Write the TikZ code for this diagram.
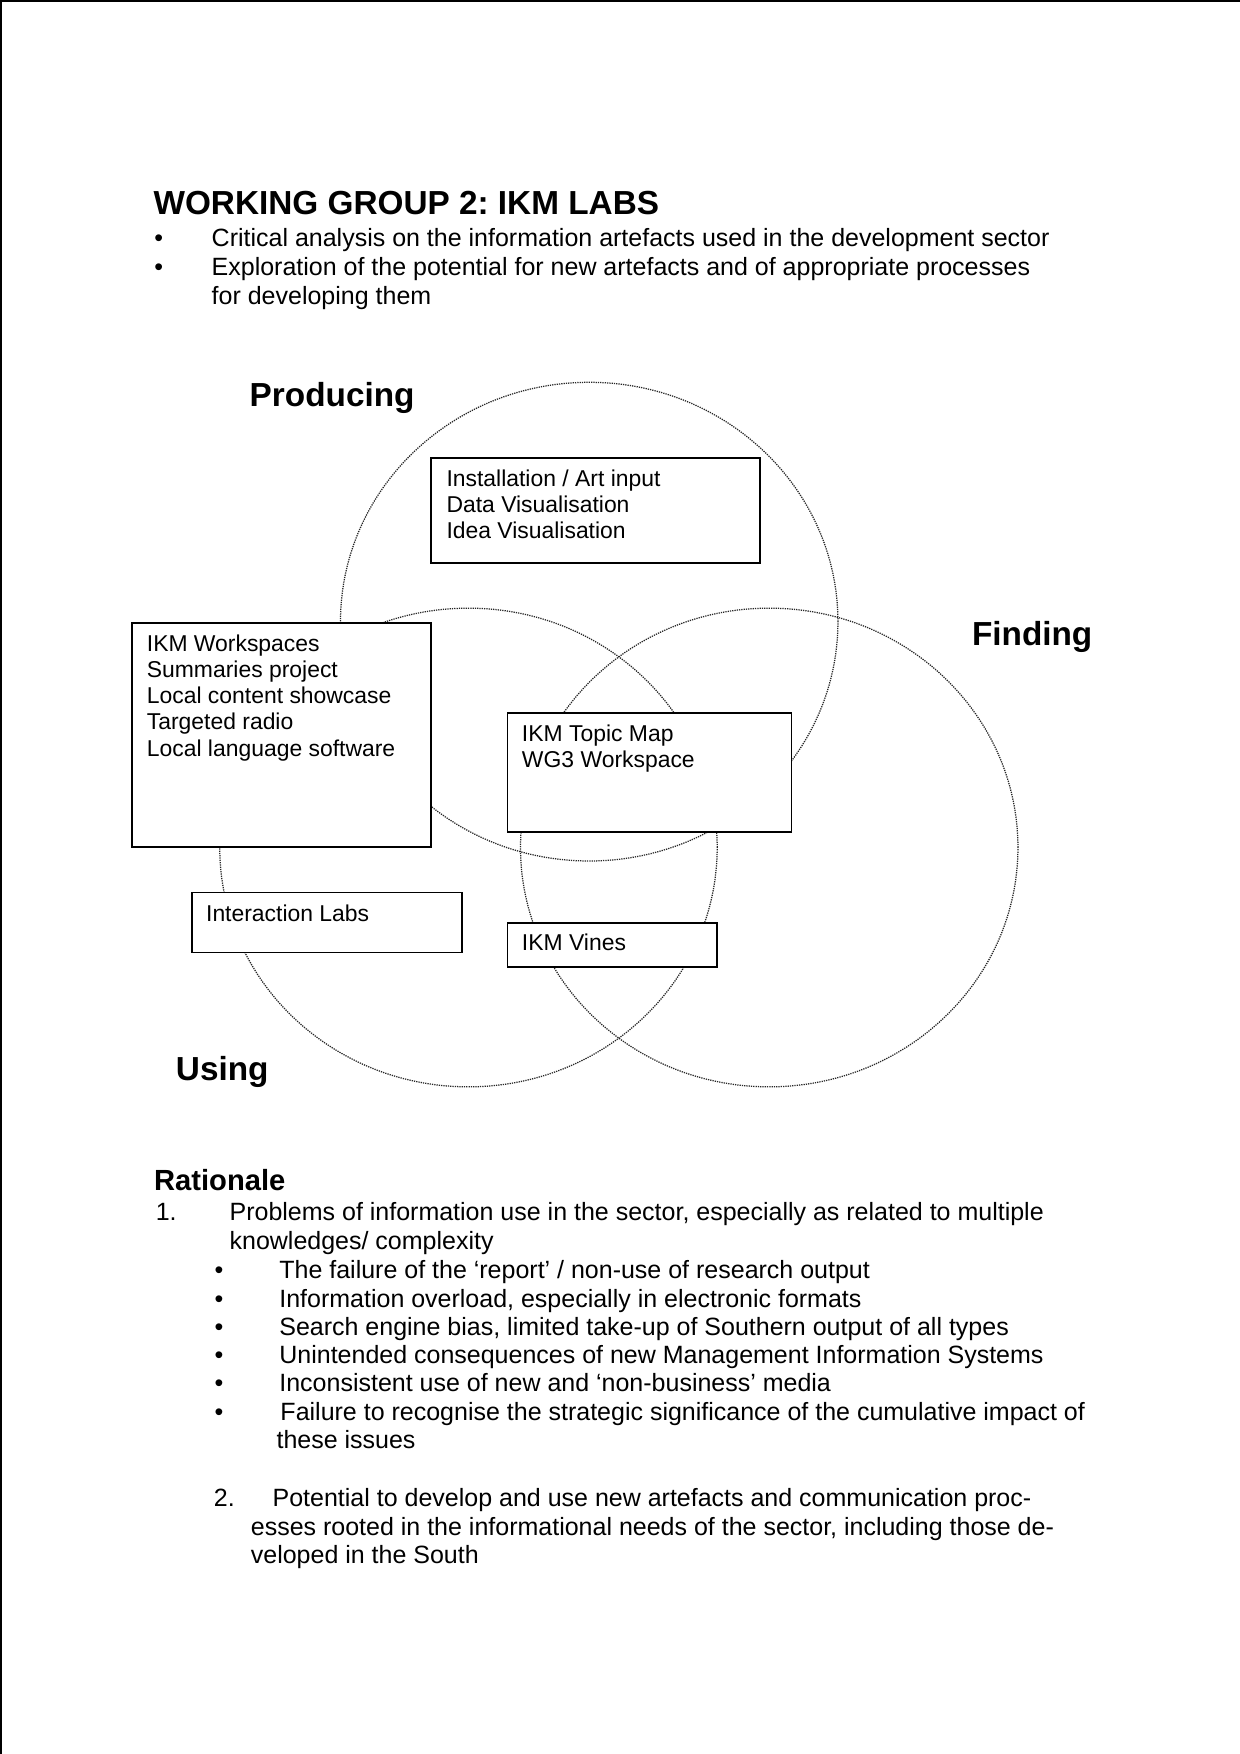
\documentclass[tikz,border=0pt]{standalone}
\usepackage{fontspec}
\setmainfont{Liberation Sans}
\frenchspacing
\begin{document}
\begin{tikzpicture}[x=0.53675pt,y=-0.53675pt,
  txt/.style={anchor=base west,inner sep=0pt,font=\fontsize{12}{14}\selectfont},
  btxt/.style={anchor=base west,inner sep=0pt,font=\fontsize{11}{13}\selectfont},
  head/.style={anchor=base west,inner sep=0pt,font=\fontsize{16}{19}\selectfont\bfseries},
  rhead/.style={anchor=base west,inner sep=0pt,font=\fontsize{14}{17}\selectfont\bfseries},
  box/.style={draw,line width=0.8pt,fill=white,inner sep=0pt,anchor=north west},
  venn/.style={draw=black!85,line width=0.6pt,dash pattern=on 0.6pt off 0.5pt}]
\useasboundingbox (0,0) rectangle (1109.05,1568.8);
\fill[white] (0,0) rectangle (1109.05,1568.8);
% page edges
\draw[line width=1pt] (0,1) -- (1109.05,1);
\draw[line width=1pt] (1,0) -- (1,1568.8);

% heading
\node[head] (title) at (137,192) {WORKING GROUP 2: IKM LABS};
\node[txt] (b1) at (137.7,220.5) {•};
\node[txt] (t1) at (189,220.5) {Critical analysis on the information artefacts used in the development sector};
\node[txt] (b2) at (137.7,246.3) {•};
\node[txt] (t2) at (189,246.3) {Exploration of the potential for new artefacts and of appropriate processes};
\node[txt] (t3) at (189,272) {for developing them};

% circles
\draw[venn] (527,556) ellipse [x radius=119.4pt, y radius=114.9pt];
\draw[venn] (419,758) ellipse [x radius=119.4pt, y radius=114.9pt];
\draw[venn] (688,758) ellipse [x radius=119.4pt, y radius=114.9pt];

\node[head] (producing) at (223,364) {Producing};
\node[head] (finding) at (869,577.5) {Finding};
\node[head] (using) at (157,966.5) {Using};

% boxes
\node[box,minimum width=158pt,minimum height=50.6pt] (box1) at (384.8,408.6) {};
\node[btxt] (l11) at (399,435) {Installation / Art input};
\node[btxt] (l12) at (399,458.4) {Data Visualisation};
\node[btxt] (l13) at (399,481.8) {Idea Visualisation};

\node[box,minimum width=143.5pt,minimum height=107.5pt] (box2) at (117.2,556.3) {};
\node[btxt] (l21) at (131,582.6) {IKM Workspaces};
\node[btxt] (l22) at (131,606) {Summaries project};
\node[btxt] (l23) at (131,629.4) {Local content showcase};
\node[btxt] (l24) at (131,652.8) {Targeted radio};
\node[btxt] (l25) at (131,676.2) {Local language software};

\node[box,minimum width=136.4pt,minimum height=57.2pt] (box3) at (453.2,636.8) {};
\node[btxt] (l31) at (466.5,663.1) {IKM Topic Map};
\node[btxt] (l32) at (466.5,686.5) {WG3 Workspace};

\node[box,minimum width=129.8pt,minimum height=28.8pt] (box4) at (170.7,797.5) {};
\node[btxt] (l41) at (184,824) {Interaction Labs};

\node[box,minimum width=100.4pt,minimum height=21.3pt] (box5) at (453.2,824.6) {};
\node[btxt] (l51) at (466.5,850.3) {IKM Vines};

% rationale
\node[rhead] (rat) at (137.5,1064.6) {Rationale};
\node[txt] (n1) at (139,1092) {1.};
\node[txt] (r1) at (205,1092) {Problems of information use in the sector, especially as related to multiple};
\node[txt] (r2) at (205,1117.6) {knowledges/ complexity};
\node[txt] (rb1) at (191.7,1143.6) {•};
\node[txt] (rt1) at (249.5,1143.6) {The failure of the ‘report’ / non-use of research output};
\node[txt] (rb2) at (191.7,1169) {•};
\node[txt] (rt2) at (249.5,1169) {Information overload, especially in electronic formats};
\node[txt] (rb3) at (191.7,1194.3) {•};
\node[txt] (rt3) at (249.5,1194.3) {Search engine bias, limited take-up of Southern output of all types};
\node[txt] (rb4) at (191.7,1219.6) {•};
\node[txt] (rt4) at (249.5,1219.6) {Unintended consequences of new Management Information Systems};
\node[txt] (rb5) at (191.7,1245) {•};
\node[txt] (rt5) at (249.5,1245) {Inconsistent use of new and ‘non-business’ media};
\node[txt] (rb6) at (191.7,1270.3) {•};
\node[txt] (rt6) at (250.5,1270.3) {Failure to recognise the strategic significance of the cumulative impact of};
\node[txt] (rt7) at (247,1295.6) {these issues};
\node[txt] (n2) at (191,1347.8) {2.};
\node[txt] (p1) at (243.5,1347.8) {Potential to develop and use new artefacts and communication proc-};
\node[txt] (p2) at (224,1373.2) {esses rooted in the informational needs of the sector, including those de-};
\node[txt] (p3) at (224,1398.5) {veloped in the South};
\end{tikzpicture}
\end{document}
